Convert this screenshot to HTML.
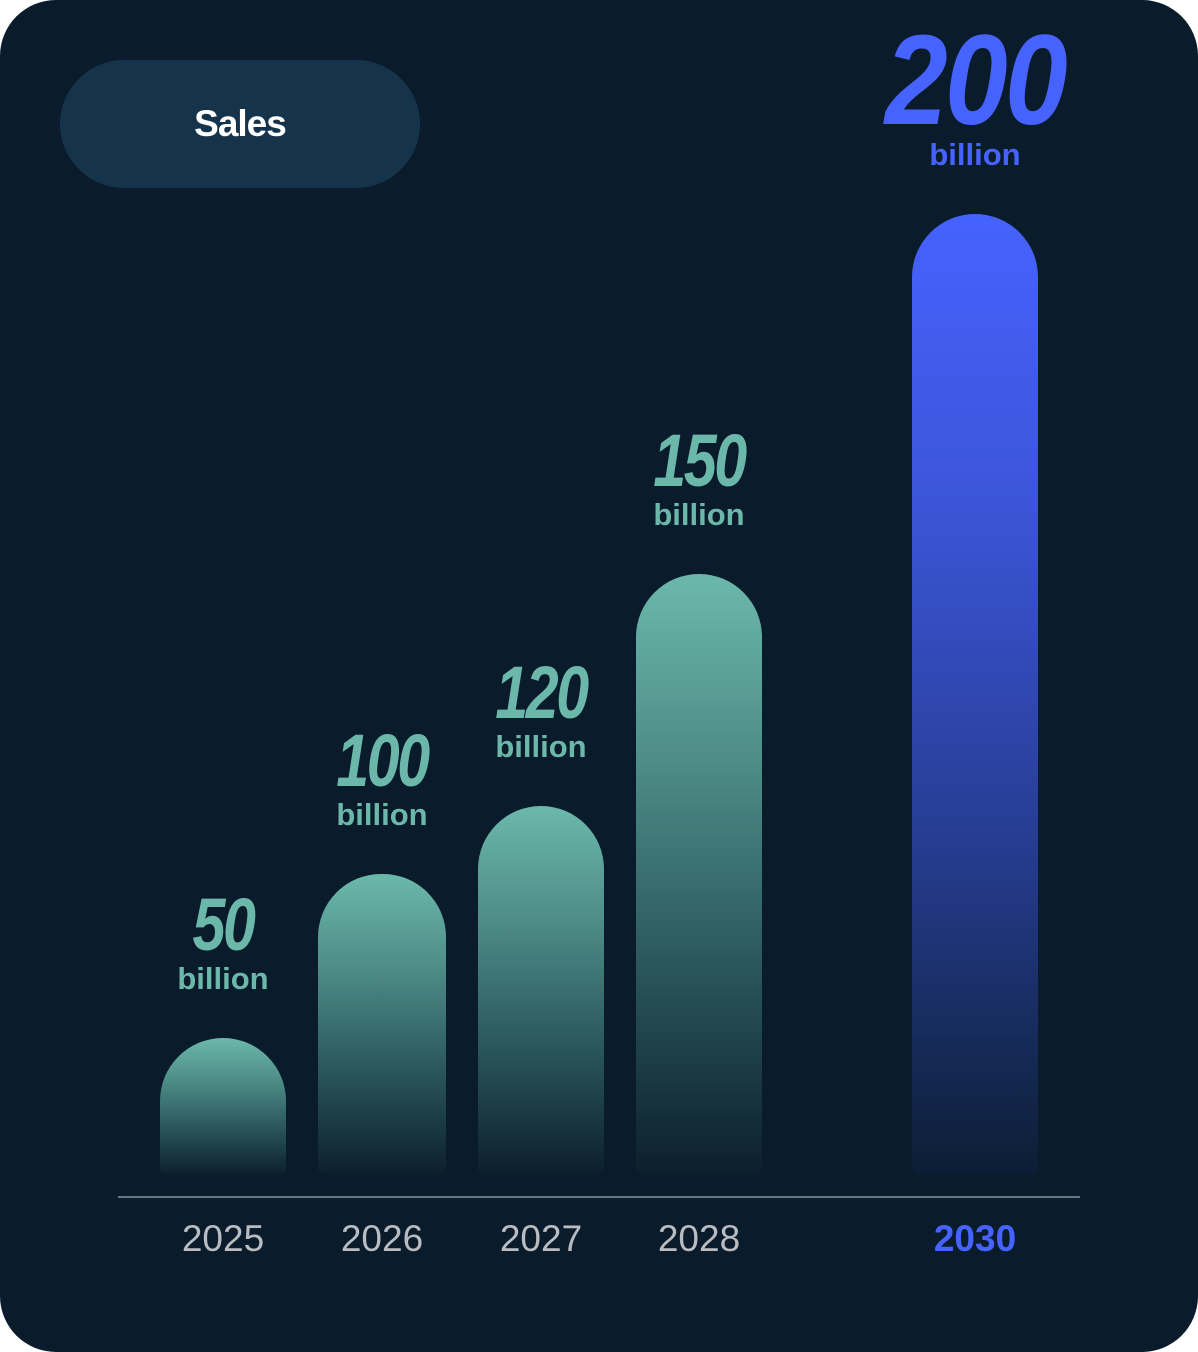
<!DOCTYPE html>
<html><head><style>
body{margin:0;background:#fff;}
.card{position:relative;width:1198px;height:1352px;background:#0a1c2b;border-radius:56px;overflow:hidden;font-family:"Liberation Sans",sans-serif;}
.pill{position:absolute;left:60px;top:60px;width:360px;height:128px;border-radius:64px;background:#15344c;color:#fff;font-weight:bold;font-size:37px;line-height:128px;text-align:center;letter-spacing:-1px;}
.bar{position:absolute;width:126px;bottom:177px;border-radius:63px 63px 8px 8px;background:linear-gradient(#6bb8aa,#4f8e89 30%,#2a575c 65%,#0c1f2c);}
.blue{background:linear-gradient(#4662ff,#3c55d8 30%,#263d92 65%,#0c1e34);}
.num{position:absolute;text-align:center;font-weight:bold;font-style:italic;color:#6bb8aa;transform:scaleX(0.8);letter-spacing:-3px;}
.bil{position:absolute;text-align:center;font-weight:bold;font-size:31px;color:#6bb8aa;}
.yr{position:absolute;top:1218px;width:160px;text-align:center;font-size:37px;color:#b9bcc0;}
.axis{position:absolute;left:118px;top:1196px;width:962px;height:2px;background:#6a7682;}
</style></head><body>
<div class="card">
<div class="pill">Sales</div>
<div class="bar" style="left:160px;top:1038px"></div>
<div class="bar" style="left:318px;top:874px;width:128px"></div>
<div class="bar" style="left:478px;top:806px"></div>
<div class="bar" style="left:636px;top:574px"></div>
<div class="bar blue" style="left:912px;top:214px"></div>

<div class="num" style="left:123px;width:200px;top:882px;font-size:74px;line-height:86px">50</div>
<div class="bil" style="left:123px;width:200px;top:961px">billion</div>
<div class="num" style="left:282px;width:200px;top:718px;font-size:74px;line-height:86px">100</div>
<div class="bil" style="left:282px;width:200px;top:797px">billion</div>
<div class="num" style="left:441px;width:200px;top:650px;font-size:74px;line-height:86px">120</div>
<div class="bil" style="left:441px;width:200px;top:729px">billion</div>
<div class="num" style="left:599px;width:200px;top:418px;font-size:74px;line-height:86px">150</div>
<div class="bil" style="left:599px;width:200px;top:497px">billion</div>
<div class="num" style="left:855px;width:240px;top:16px;font-size:128px;line-height:130px;color:#4662ff;letter-spacing:-3px;transform:scaleX(0.88)">200</div>
<div class="bil" style="left:875px;width:200px;top:137px;color:#4662ff">billion</div>

<div class="axis"></div>
<div class="yr" style="left:143px">2025</div>
<div class="yr" style="left:302px">2026</div>
<div class="yr" style="left:461px">2027</div>
<div class="yr" style="left:619px">2028</div>
<div class="yr" style="left:895px;color:#4662ff;font-weight:bold">2030</div>
</div>
</body></html>
